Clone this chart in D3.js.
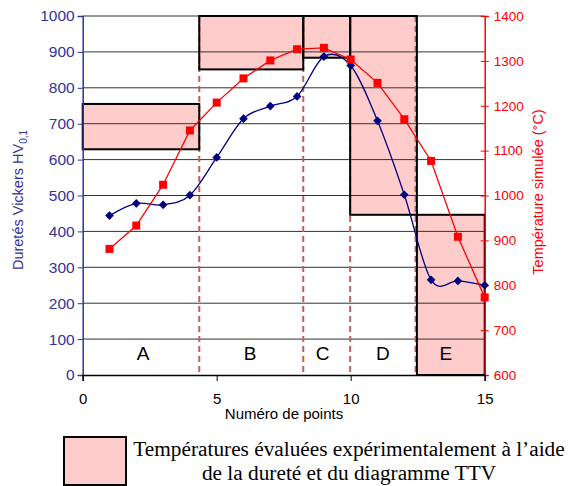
<!DOCTYPE html>
<html>
<head>
<meta charset="utf-8">
<script src="https://cdn.jsdelivr.net/npm/d3@7"></script>
<style>
  body { margin: 0; background: #fff; }
  svg { display: block; }
</style>
</head>
<body>
<script>
//// Data ////
const pointNumbers = [1, 2, 3, 4, 5, 6, 7, 8, 9, 10, 11, 12, 13, 14, 15]
const hardness = [444, 478, 474, 501, 606, 714, 749, 776, 887, 862, 708, 502, 265, 262, 250]
const temperature = [881, 933, 1024, 1145, 1207, 1261, 1301, 1326, 1329, 1303, 1251, 1170, 1077, 908, 773]

const zoneNames = ["A", "B", "C", "D", "E"]
const zoneStart = [0, 4.35, 8.23, 9.98, 12.47]
const zoneEnd = [4.35, 8.23, 9.98, 12.47, 15]
const zoneTempLow = [1103, 1281, 1307, 957, 600]
const zoneTempHigh = [1204, 1400, 1400, 1400, 957]
const zoneLabelX = [2.25, 6.25, 8.95, 11.2, 13.55]
const dividers = [4.35, 8.23, 9.98, 12.42]

const hardnessTicks = [0, 100, 200, 300, 400, 500, 600, 700, 800, 900, 1000]
const tempTicks = [600, 700, 800, 900, 1000, 1100, 1200, 1300, 1400]
const pointTicks = [0, 5, 10, 15]

//// Layout ////
const WIDTH = 572
const HEIGHT = 486
const LEFT = 82.7, RIGHT = 484.7, TOP = 16, BOTTOM = 375

const BLUE = "#000080"
const AXIS_BLUE = "#333399"
const RED = "#ff0000"
const PINK = "#ffcccc"
const DASH = "#c06060"
const SANS = "'Liberation Sans', Arial, sans-serif"
const SERIF = "'Liberation Serif', 'Times New Roman', serif"

const x = d3.scaleLinear().domain([0, 15]).range([LEFT, RIGHT])
const yL = d3.scaleLinear().domain([0, 1000]).range([BOTTOM, TOP])
const yR = d3.scaleLinear().domain([600, 1400]).range([BOTTOM, TOP])

const svg = d3.select("body").append("svg")
  .attr("width", WIDTH)
  .attr("height", HEIGHT)

svg.append("rect").attr("width", WIDTH).attr("height", HEIGHT).attr("fill", "#fff")

const zones = zoneNames.map((n, i) => ({
  name: n, x0: zoneStart[i], x1: zoneEnd[i], lo: zoneTempLow[i], hi: zoneTempHigh[i], lx: zoneLabelX[i]
}))

// pink fills
svg.append("g").selectAll("rect").data(zones).join("rect")
  .attr("x", d => x(d.x0))
  .attr("y", d => yR(d.hi))
  .attr("width", d => x(d.x1) - x(d.x0))
  .attr("height", d => yR(d.lo) - yR(d.hi))
  .attr("fill", PINK)

// gridlines
svg.append("g").selectAll("line").data(hardnessTicks.filter(t => t > 0)).join("line")
  .attr("x1", LEFT).attr("x2", RIGHT)
  .attr("y1", d => yL(d)).attr("y2", d => yL(d))
  .attr("stroke", "#333").attr("stroke-width", 1)

// dashed zone dividers
svg.append("g").selectAll("line").data(dividers).join("line")
  .attr("x1", d => x(d)).attr("x2", d => x(d))
  .attr("y1", TOP).attr("y2", BOTTOM)
  .attr("stroke", DASH).attr("stroke-width", 2)
  .attr("stroke-dasharray", "6,4")

// box outlines
svg.append("g").selectAll("rect").data(zones).join("rect")
  .attr("x", d => x(d.x0))
  .attr("y", d => yR(d.hi))
  .attr("width", d => x(d.x1) - x(d.x0))
  .attr("height", d => yR(d.lo) - yR(d.hi))
  .attr("fill", "none")
  .attr("stroke", "#000").attr("stroke-width", 2)

// zone letters
svg.append("g").selectAll("text").data(zones).join("text")
  .attr("x", d => x(d.lx))
  .attr("y", 360)
  .attr("text-anchor", "middle")
  .style("font-family", SANS).style("font-size", "19px")
  .text(d => d.name)

//// Axes ////
const fmt = d3.format("d")

const axL = svg.append("g").attr("transform", `translate(${LEFT},0)`)
  .call(d3.axisLeft(yL).tickValues(hardnessTicks).tickFormat(fmt).tickSize(5).tickPadding(3))
axL.select(".domain").attr("stroke", AXIS_BLUE).attr("stroke-width", 1.5)
axL.selectAll(".tick line").attr("stroke", AXIS_BLUE)
axL.selectAll(".tick text").attr("fill", AXIS_BLUE)
  .style("font-family", SANS).style("font-size", "15.5px")

const axR = svg.append("g").attr("transform", `translate(${RIGHT},0)`)
  .call(d3.axisRight(yR).tickValues(tempTicks).tickFormat(fmt).tickSize(4).tickPadding(5))
axR.select(".domain").attr("stroke", RED).attr("stroke-width", 1.5)
axR.selectAll(".tick line").attr("stroke", RED).attr("x1", -4)
axR.selectAll(".tick text").attr("fill", RED)
  .style("font-family", SANS).style("font-size", "13.5px")

const axB = svg.append("g").attr("transform", `translate(0,${BOTTOM})`)
  .call(d3.axisBottom(x).tickValues(pointTicks).tickFormat(fmt).tickSize(6).tickPadding(12))
axB.select(".domain").attr("stroke", "#000").attr("stroke-width", 1.5)
axB.selectAll(".tick text").attr("fill", "#000")
  .style("font-family", SANS).style("font-size", "15px")

// axis titles
const tl = svg.append("text")
  .attr("transform", "translate(23,200) rotate(-90)")
  .attr("text-anchor", "middle")
  .attr("fill", AXIS_BLUE)
  .style("font-family", SANS).style("font-size", "14.5px")
tl.append("tspan").text("Duretés Vickers HV")
tl.append("tspan").attr("dy", 4).style("font-size", "10px").text("0,1")

svg.append("text")
  .attr("transform", "translate(543,192) rotate(-90)")
  .attr("text-anchor", "middle")
  .attr("fill", RED)
  .style("font-family", SANS).style("font-size", "14.5px")
  .text("Température simulée (°C)")

svg.append("text")
  .attr("x", 284).attr("y", 419)
  .attr("text-anchor", "middle")
  .style("font-family", SANS).style("font-size", "15px")
  .text("Numéro de points")

//// Series ////
const hardData = pointNumbers.map((p, i) => [p, hardness[i]])
const tempData = pointNumbers.map((p, i) => [p, temperature[i]])

svg.append("path")
  .attr("d", d3.line().x(d => x(d[0])).y(d => yL(d[1])).curve(d3.curveCardinal.tension(0))(hardData))
  .attr("fill", "none").attr("stroke", BLUE).attr("stroke-width", 1.3)

svg.append("g").selectAll("path").data(hardData).join("path")
  .attr("transform", d => `translate(${x(d[0])},${yL(d[1])})`)
  .attr("d", d3.symbol(d3.symbolDiamond2, 48)())
  .attr("fill", BLUE)

svg.append("path")
  .attr("d", d3.line().x(d => x(d[0])).y(d => yR(d[1]))(tempData))
  .attr("fill", "none").attr("stroke", RED).attr("stroke-width", 1.3)

svg.append("g").selectAll("rect").data(tempData).join("rect")
  .attr("x", d => x(d[0]) - 4).attr("y", d => yR(d[1]) - 4)
  .attr("width", 8).attr("height", 8)
  .attr("fill", RED)

//// Legend ////
svg.append("rect")
  .attr("x", 64).attr("y", 437).attr("width", 62).attr("height", 48)
  .attr("fill", PINK).attr("stroke", "#000").attr("stroke-width", 2)

const leg = svg.append("text")
  .attr("text-anchor", "middle")
  .style("font-family", SERIF).style("font-size", "21.3px")
leg.append("tspan").attr("x", 349).attr("y", 456).text("Températures évaluées expérimentalement à l’aide")
leg.append("tspan").attr("x", 349).attr("y", 480).text("de la dureté et du diagramme TTV")
</script>
</body>
</html>
